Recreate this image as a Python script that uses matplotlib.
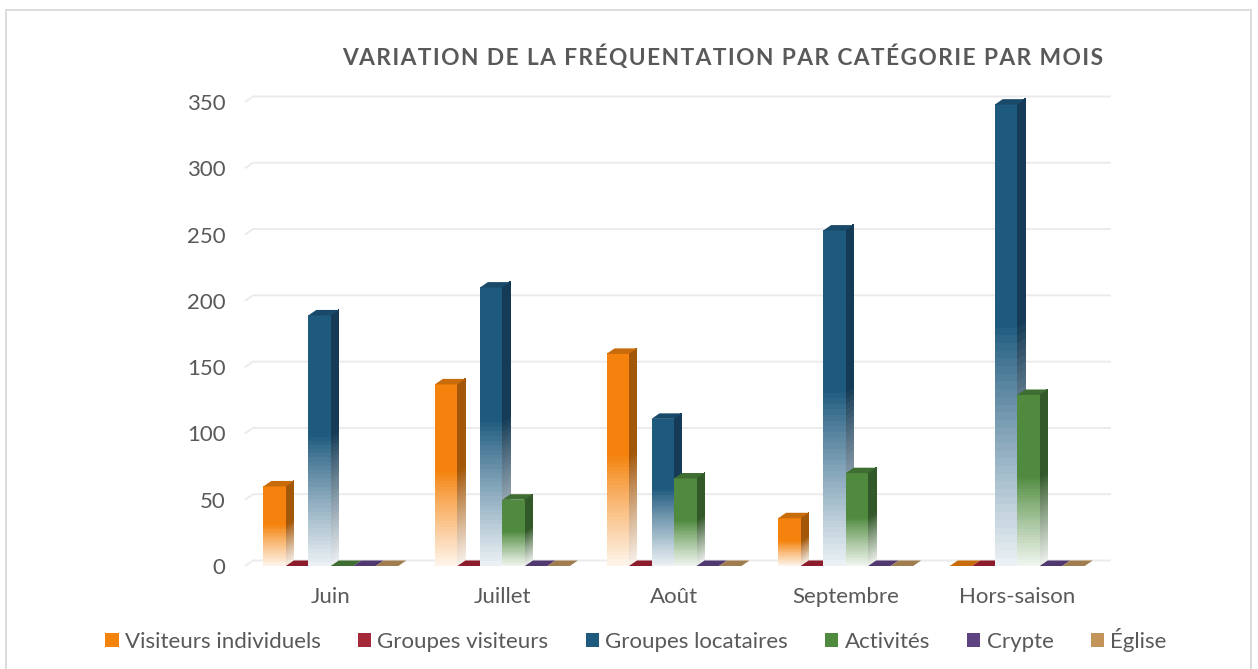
#!/usr/bin/env python3
"""Fréquentation par catégorie et par mois - colonnes 3D façon Excel."""
import numpy as np
import matplotlib.pyplot as plt
from matplotlib.patches import Polygon, Patch, Rectangle
from matplotlib.collections import PolyCollection
from matplotlib.colors import to_rgb

plt.rcParams['font.family'] = ['Lato', 'DejaVu Sans']

#---------------- Données ----------------
categories = ['Juin', 'Juillet', 'Août', 'Septembre', 'Hors-saison']
series_names = ['Visiteurs individuels', 'Groupes visiteurs',
                'Groupes locataires', 'Activités', 'Crypte', 'Église']
visiteurs_individuels = [60, 137, 160, 36, 0]
groupes_visiteurs = [0, 0, 0, 0, 0]
groupes_locataires = [189, 210, 111, 253, 348]
activites = [0, 50, 66, 70, 129]
crypte = [0, 0, 0, 0, 0]
eglise = [0, 0, 0, 0, 0]
y_ticks = [0, 50, 100, 150, 200, 250, 300, 350]

series = [visiteurs_individuels, groupes_visiteurs, groupes_locataires,
          activites, crypte, eglise]

# couleurs: face avant, côté, dessus
front_colors = ['#F4820C', '#A42A3A', '#1E5A7E', '#4F8A3E', '#5F4282', '#C4955A']
side_colors = ['#A35709', '#6E1A26', '#153B56', '#33592A', '#3F2B57', '#8A6A3E']
top_colors = ['#C86C0B', '#8C1B2B', '#194A69', '#3E6E31', '#523870', '#A07D4E']

TEXT = '#595959'
GRID = '#EBEBEB'
FS = 16

#---------------- Figure ----------------
W, H = 1258, 669
fig = plt.figure(figsize=(W / 100, H / 100), dpi=100)
x_left, x_right, y_zero, y_top = 245, 1103, 566, 102
ax = fig.add_axes([x_left / W, (H - y_zero) / H,
                   (x_right - x_left) / W, (y_zero - y_top) / H])
ax.set_xlim(-0.5, 4.5)
ax.set_ylim(0, 350)
for s in ax.spines.values():
    s.set_visible(False)

px_x = (x_right - x_left) / 5.0       # pixels par catégorie
px_y = (y_zero - y_top) / 350.0       # pixels par unité
dx = 8 / px_x                          # profondeur 3D
dy = 5.5 / px_y

# grille: ligne de sol en diagonale puis mur du fond
for v in y_ticks:
    ax.plot([-0.5, -0.5 + dx, 4.5 + dx], [v, v + dy, v + dy],
            color=GRID, lw=1.4, zorder=0, clip_on=False,
            solid_capstyle='butt')


def fade(color, h):
    """h: hauteur relative (0 bas, 1 haut) -> couleur délavée vers le blanc"""
    rgb = np.array(to_rgb(color))
    f = np.clip((0.52 - h) / 0.52, 0, 1) ** 0.9 * 0.92
    return rgb * (1 - f) + f


bw = 22.5 / px_x
gap = 1 - 6 * bw
nstrip = 60
for j, vals in enumerate(series):
    for i, v in enumerate(vals):
        x0 = i - 0.5 + gap / 2 + j * bw
        x1 = x0 + bw
        z = 2 + j
        if v > 0:
            edges = np.linspace(0, v, nstrip + 1)
            fr, sd, fc, sc = [], [], [], []
            for k in range(nstrip):
                ya, yb = edges[k], edges[k + 1] + v * 0.002
                hmid = (k + 0.5) / nstrip
                fr.append([(x0, ya), (x1, ya), (x1, yb), (x0, yb)])
                fc.append(fade(front_colors[j], hmid))
                sd.append([(x1, ya), (x1 + dx, ya + dy),
                           (x1 + dx, yb + dy), (x1, yb)])
                sc.append(fade(side_colors[j], hmid))
            ax.add_collection(PolyCollection(sd, facecolors=sc, edgecolors='none',
                                             antialiased=False, zorder=z,
                                             clip_on=False))
            ax.add_collection(PolyCollection(fr, facecolors=fc, edgecolors='none',
                                             antialiased=False, zorder=z + 0.1,
                                             clip_on=False))
        ax.add_patch(Polygon([(x0, v), (x1, v), (x1 + dx, v + dy), (x0 + dx, v + dy)],
                             closed=True, facecolor=top_colors[j],
                             edgecolor='none', zorder=z + 0.2, clip_on=False))

ax.set_xticks(range(len(categories)))
ax.set_xticklabels(categories)
ax.set_yticks(y_ticks)
ax.set_yticklabels([str(t) for t in y_ticks])
ax.tick_params(axis='x', length=0, pad=15, labelsize=FS, labelcolor=TEXT)
ax.tick_params(axis='y', length=0, pad=14, labelsize=FS, labelcolor=TEXT)

# titre avec un léger espacement des lettres
title = 'VARIATION DE LA FRÉQUENTATION PAR CATÉGORIE PAR MOIS'
spaced = '\u200a'.join(title)
fig.text(723 / W, 1 - 57 / H, spaced, ha='center', va='center',
         fontsize=16.4, fontweight='bold', color=TEXT)

handles = [Patch(facecolor=c, edgecolor='none') for c in front_colors]
leg = fig.legend(handles, series_names, loc='center', ncol=6,
                 bbox_to_anchor=(636 / W, 1 - 640 / H), frameon=False,
                 fontsize=FS, handlelength=0.6, handleheight=0.6,
                 handletextpad=0.28, columnspacing=1.67, labelcolor=TEXT)

# cadre du graphique
fig.add_artist(Rectangle((5.5 / W, -0.05), 1245 / W, 1.05 - 10 / H,
                         transform=fig.transFigure, fill=False,
                         edgecolor='#D9D9D9', lw=1.3))

plt.savefig('out.png', dpi=100)
